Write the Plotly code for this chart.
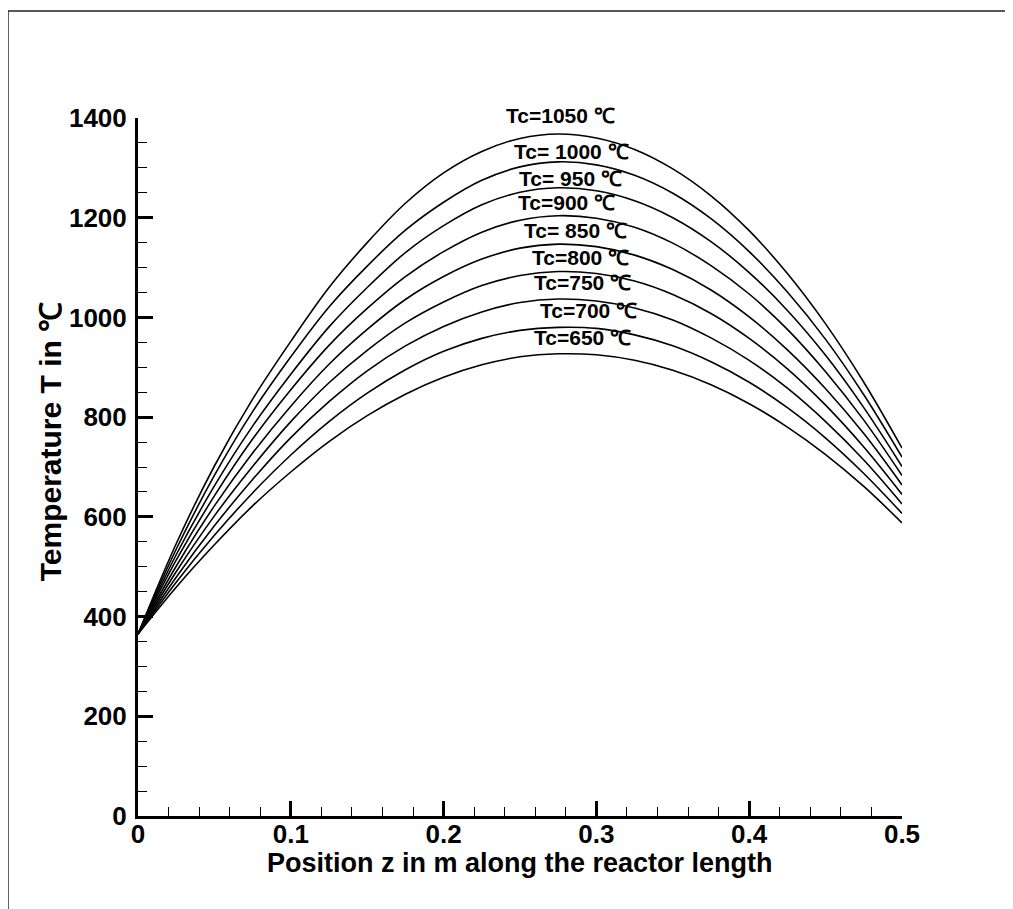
import plotly.graph_objects as go

# position along the reactor (m)
z = [0, 0.025, 0.05, 0.075, 0.1, 0.125, 0.15, 0.175, 0.2, 0.225, 0.25, 0.275,
     0.3, 0.325, 0.35, 0.375, 0.4, 0.425, 0.45, 0.475, 0.5]

# temperature profiles (deg C) for each coolant temperature Tc
t_1050 = [365, 546, 702, 836, 952, 1060, 1150, 1229, 1290, 1333, 1359, 1368,
          1360, 1337, 1298, 1244, 1174, 1088, 987, 870, 738]
t_1000 = [365, 535, 683, 811, 921, 1021, 1103, 1175, 1231, 1275, 1302, 1312,
          1306, 1285, 1249, 1198, 1132, 1051, 956, 845, 720]
t_950 = [365, 524, 662, 782, 886, 981, 1060, 1130, 1184, 1226, 1251, 1260,
         1254, 1234, 1200, 1152, 1090, 1014, 924, 819, 701]
t_900 = [365, 513, 642, 756, 855, 944, 1018, 1082, 1132, 1171, 1195, 1204,
         1199, 1181, 1149, 1104, 1047, 976, 891, 794, 683]
t_850 = [365, 501, 622, 728, 822, 906, 976, 1036, 1082, 1117, 1139, 1147,
         1142, 1125, 1096, 1055, 1001, 935, 857, 767, 664]
t_800 = [365, 490, 602, 701, 791, 869, 934, 989, 1031, 1064, 1084, 1092,
         1088, 1073, 1046, 1008, 958, 897, 824, 740, 645]
t_750 = [365, 479, 582, 675, 759, 831, 893, 943, 982, 1011, 1030, 1037,
         1033, 1019, 995, 959, 914, 858, 791, 714, 626]
t_700 = [365, 469, 563, 648, 724, 791, 848, 895, 932, 958, 974, 980,
         978, 965, 943, 911, 870, 819, 758, 687, 607]
t_650 = [365, 459, 544, 622, 690, 751, 803, 846, 880, 905, 921, 927,
         925, 914, 894, 865, 827, 780, 725, 661, 588]

series = [t_1050, t_1000, t_950, t_900, t_850, t_800, t_750, t_700, t_650]
labels = ["Tc=1050 \u2103", "Tc= 1000 \u2103", "Tc= 950 \u2103", "Tc=900 \u2103",
          "Tc= 850 \u2103", "Tc=800 \u2103", "Tc=750 \u2103", "Tc=700 \u2103",
          "Tc=650 \u2103"]

# where the curve labels sit (x in data, y as fraction of the axis height)
label_x = [0.2764, 0.2837, 0.2830, 0.2804, 0.2866, 0.2896, 0.2909, 0.2948, 0.2909]
label_y = [1.004, 0.952, 0.914, 0.879, 0.839, 0.800, 0.764, 0.724, 0.685]

FONT = "Liberation Sans, Arial, sans-serif"

fig = go.Figure()
for s in series:
    fig.add_trace(go.Scatter(x=z, y=s, mode="lines", line_shape="spline",
                             line=dict(color="black", width=1.6),
                             showlegend=False, hoverinfo="skip"))

for txt, lx, ly in zip(labels, label_x, label_y):
    fig.add_annotation(x=lx, y=ly, yref="paper", text="<b>%s</b>" % txt,
                       showarrow=False,
                       font=dict(family=FONT, size=21, color="black"),
                       xanchor="center", yanchor="middle")

# axis titles
fig.add_annotation(xref="paper", yref="paper", x=-0.115, y=0.537,
                   text="<b>Temperature T in \u2103</b>", textangle=-90,
                   showarrow=False, font=dict(family=FONT, size=30, color="black"),
                   xanchor="center", yanchor="middle")
fig.add_annotation(xref="paper", yref="paper", x=0.5, y=-0.068,
                   text="<b>Position z in m along the reactor length</b>",
                   showarrow=False, font=dict(family=FONT, size=27, color="black"),
                   xanchor="center", yanchor="middle")

# outer frame of the page
fig.add_shape(type="rect", xref="paper", yref="paper",
              x0=-0.1702, x1=1.4, y0=-0.4, y1=1.1533,
              line=dict(color="#222", width=1.5), layer="below")

fig.update_xaxes(range=[0, 0.5], dtick=0.1,
                 showgrid=False, zeroline=False,
                 showline=True, linecolor="black", linewidth=3,
                 ticks="inside", ticklen=15, tickwidth=3, tickcolor="black",
                 minor=dict(ticks="inside", ticklen=9, tickwidth=1,
                            tickcolor="black", dtick=0.02, showgrid=False),
                 ticklabelstandoff=-7,
                 tickfont=dict(family=FONT, size=26, color="black", weight="bold"))
fig.update_yaxes(range=[0, 1400], dtick=200,
                 showgrid=False, zeroline=False,
                 showline=True, linecolor="black", linewidth=3,
                 ticks="inside", ticklen=15, tickwidth=3, tickcolor="black",
                 minor=dict(ticks="inside", ticklen=9, tickwidth=1,
                            tickcolor="black", dtick=50, showgrid=False),
                 ticklabelstandoff=3,
                 tickfont=dict(family=FONT, size=26, color="black", weight="bold"))

fig.update_layout(width=1005, height=901,
                  margin=dict(l=130, r=111, t=110, b=93),
                  plot_bgcolor="white", paper_bgcolor="white")

fig.write_html("out.html")
